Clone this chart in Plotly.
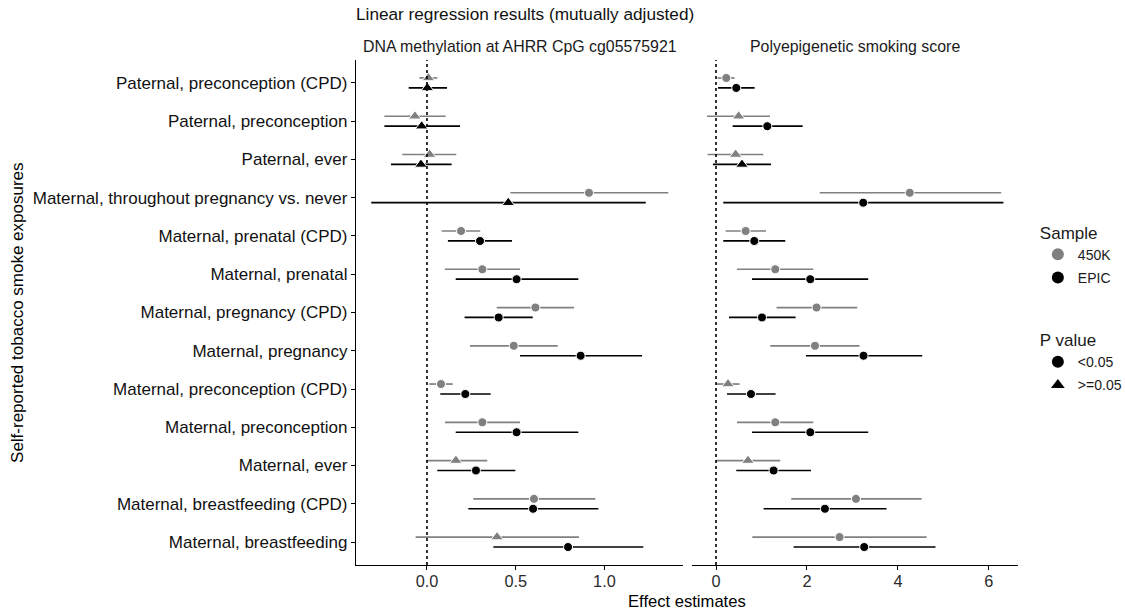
import plotly.graph_objects as go

# ---------------- data ----------------
rows = [
    "Paternal, preconception (CPD)",
    "Paternal, preconception",
    "Paternal, ever",
    "Maternal, throughout pregnancy vs. never",
    "Maternal, prenatal (CPD)",
    "Maternal, prenatal",
    "Maternal, pregnancy (CPD)",
    "Maternal, pregnancy",
    "Maternal, preconception (CPD)",
    "Maternal, preconception",
    "Maternal, ever",
    "Maternal, breastfeeding (CPD)",
    "Maternal, breastfeeding",
]

# DNA methylation at AHRR CpG cg05575921
ahrr_450k_est = [0.008, -0.068, 0.015, 0.913, 0.192, 0.312, 0.611, 0.489, 0.079, 0.312, 0.163, 0.603, 0.395]
ahrr_450k_lo  = [-0.043, -0.240, -0.139, 0.470, 0.083, 0.101, 0.393, 0.242, 0.013, 0.101, -0.004, 0.261, -0.064]
ahrr_450k_hi  = [0.058, 0.105, 0.165, 1.360, 0.300, 0.524, 0.829, 0.737, 0.145, 0.524, 0.340, 0.949, 0.857]
ahrr_450k_sig = [False, False, False, True, True, True, True, True, True, True, False, True, False]

ahrr_epic_est = [0.002, -0.030, -0.034, 0.458, 0.299, 0.505, 0.404, 0.866, 0.216, 0.505, 0.276, 0.598, 0.795]
ahrr_epic_lo  = [-0.103, -0.240, -0.203, -0.314, 0.118, 0.162, 0.212, 0.524, 0.075, 0.162, 0.058, 0.233, 0.374]
ahrr_epic_hi  = [0.113, 0.186, 0.139, 1.233, 0.479, 0.853, 0.596, 1.212, 0.359, 0.853, 0.498, 0.966, 1.219]
ahrr_epic_sig = [False, False, False, False, True, True, True, True, True, True, True, True, True]

# Polyepigenetic smoking score
poly_450k_est = [0.226, 0.498, 0.432, 4.260, 0.652, 1.303, 2.211, 2.176, 0.264, 1.303, 0.703, 3.077, 2.717]
poly_450k_lo  = [0.036, -0.198, -0.184, 2.280, 0.212, 0.461, 1.332, 1.193, 0.022, 0.461, 0.000, 1.655, 0.798]
poly_450k_hi  = [0.410, 1.187, 1.040, 6.270, 1.099, 2.138, 3.105, 3.156, 0.519, 2.138, 1.413, 4.520, 4.630]
poly_450k_sig = [True, False, False, True, True, True, True, True, False, True, False, True, True]

poly_epic_est = [0.446, 1.128, 0.571, 3.237, 0.842, 2.073, 1.011, 3.244, 0.769, 2.073, 1.267, 2.395, 3.259]
poly_epic_lo  = [0.044, 0.366, -0.066, 0.160, 0.160, 0.791, 0.286, 1.978, 0.242, 0.791, 0.446, 1.047, 1.707]
poly_epic_hi  = [0.849, 1.905, 1.209, 6.320, 1.523, 3.347, 1.750, 4.534, 1.310, 3.347, 2.088, 3.750, 4.826]
poly_epic_sig = [True, True, False, True, True, True, True, True, True, True, True, True, True]

panel_titles = ["DNA methylation at AHRR CpG cg05575921", "Polyepigenetic smoking score"]
left_ticks = [0.0, 0.5, 1.0]
left_ticktext = ["0.0", "0.5", "1.0"]
right_ticks = [0, 2, 4, 6]
right_ticktext = ["0", "2", "4", "6"]

GREY = "#808080"
BLACK = "#000000"
FONT = "Liberation Sans, Arial, sans-serif"

n = len(rows)
ypos = [n - i for i in range(n)]  # top row highest
DODGE = 0.13

fig = go.Figure()


def add_series(est, lo, hi, sig, color, offset, xa, ya):
    y = [p + offset for p in ypos]
    fig.add_trace(go.Scatter(
        x=est, y=y, mode="markers", xaxis=xa, yaxis=ya, showlegend=False,
        marker=dict(color=color, opacity=1,
                    size=[9 if s else 11 for s in sig],
                    symbol=["circle" if s else "triangle-up" for s in sig]),
        error_x=dict(type="data", symmetric=False,
                     array=[h - e for h, e in zip(hi, est)],
                     arrayminus=[e - l for e, l in zip(est, lo)],
                     color=color, thickness=1.7, width=0),
        hoverinfo="skip",
    ))


add_series(ahrr_450k_est, ahrr_450k_lo, ahrr_450k_hi, ahrr_450k_sig, GREY, DODGE, "x", "y")
add_series(ahrr_epic_est, ahrr_epic_lo, ahrr_epic_hi, ahrr_epic_sig, BLACK, -DODGE, "x", "y")
add_series(poly_450k_est, poly_450k_lo, poly_450k_hi, poly_450k_sig, GREY, DODGE, "x2", "y2")
add_series(poly_epic_est, poly_epic_lo, poly_epic_hi, poly_epic_sig, BLACK, -DODGE, "x2", "y2")

# legend dummy traces
legend_items = [
    ("450K", GREY, 10, "circle", "legend"),
    ("EPIC", BLACK, 10, "circle", "legend"),
    ("<0.05", BLACK, 8, "circle", "legend2"),
    (">=0.05", BLACK, 10, "triangle-up", "legend2"),
]
for name, col, sz, sym, lg in legend_items:
    fig.add_trace(go.Scatter(x=[None], y=[None], mode="markers", name=name, legendgroup=name,
                             marker=dict(color=col, size=sz, symbol=sym, opacity=1), legend=lg))

axis_common = dict(showgrid=False, zeroline=False, showline=True, linecolor="black",
                   linewidth=1.3, ticks="outside", ticklen=4, tickwidth=1.1, automargin=False,
                   ticklabelstandoff=-3,
                   tickcolor="black", tickfont=dict(size=16.3, color="#2b2b2b", family=FONT))

legend_common = dict(xanchor="left", yanchor="top", font=dict(size=14, color="#1a1a1a"),
                     bgcolor="rgba(0,0,0,0)", itemsizing="constant", tracegroupgap=2)

fig.update_layout(
    template="none",
    width=1125, height=613,
    margin=dict(l=356, r=107, t=60, b=48, autoexpand=False),
    paper_bgcolor="white", plot_bgcolor="white",
    font=dict(family=FONT, color="black"),
    xaxis=dict(domain=[0, 0.494], range=[-0.40, 1.443], tickvals=left_ticks,
               ticktext=left_ticktext, anchor="y", **axis_common),
    xaxis2=dict(domain=[0.5076, 1], range=[-0.527, 6.64], tickvals=right_ticks,
                ticktext=right_ticktext, anchor="y2", **axis_common),
    yaxis=dict(range=[0.4, n + 0.6], tickvals=ypos, ticktext=rows, anchor="x",
               showgrid=False, zeroline=False, showline=True, linecolor="black",
               linewidth=1.3, ticks="outside", ticklen=4, tickwidth=1.1, tickcolor="black",
               automargin=False, tickfont=dict(size=17, color="#111111", family=FONT)),
    yaxis2=dict(range=[0.4, n + 0.6], anchor="x2", matches="y", showticklabels=False,
                showgrid=False, zeroline=False, showline=False, ticks="", automargin=False),
    legend=dict(title=dict(text="Sample", font=dict(size=17)), x=1.03, y=0.69, **legend_common),
    legend2=dict(title=dict(text="P value", font=dict(size=17)), x=1.03, y=0.477, **legend_common),
    title=dict(text="Linear regression results (mutually adjusted)", x=0.0, xref="paper",
               xanchor="left", y=1 - 14 / 613, yanchor="middle",
               font=dict(size=17.2, color="#111111", family=FONT)),
)

# dotted zero reference lines
for xr, yr in (("x", "y domain"), ("x2", "y2 domain")):
    fig.add_shape(type="line", xref=xr, yref=yr, x0=0, x1=0, y0=0, y1=1,
                  line=dict(color="black", width=1.6, dash="dot"))

# strip titles
fig.add_annotation(text=panel_titles[0], xref="x domain", yref="paper", x=0.5, y=1.027,
                   showarrow=False, yanchor="middle", font=dict(size=15.9, color="#1a1a1a"))
fig.add_annotation(text=panel_titles[1], xref="x2 domain", yref="paper", x=0.5, y=1.027,
                   showarrow=False, yanchor="middle", font=dict(size=15.9, color="#1a1a1a"))
# axis titles
fig.add_annotation(text="Effect estimates", xref="paper", yref="paper", x=0.5, y=-0.073,
                   showarrow=False, yanchor="middle", font=dict(size=16.6))
fig.add_annotation(text="Self-reported tobacco smoke exposures", xref="paper", yref="paper",
                   x=-0.5114, y=0.5, textangle=-90, showarrow=False, xanchor="center",
                   yanchor="middle", font=dict(size=17))

fig.write_html("out.html", post_script="document.body.style.margin='0px';",
               config={"displayModeBar": False})
